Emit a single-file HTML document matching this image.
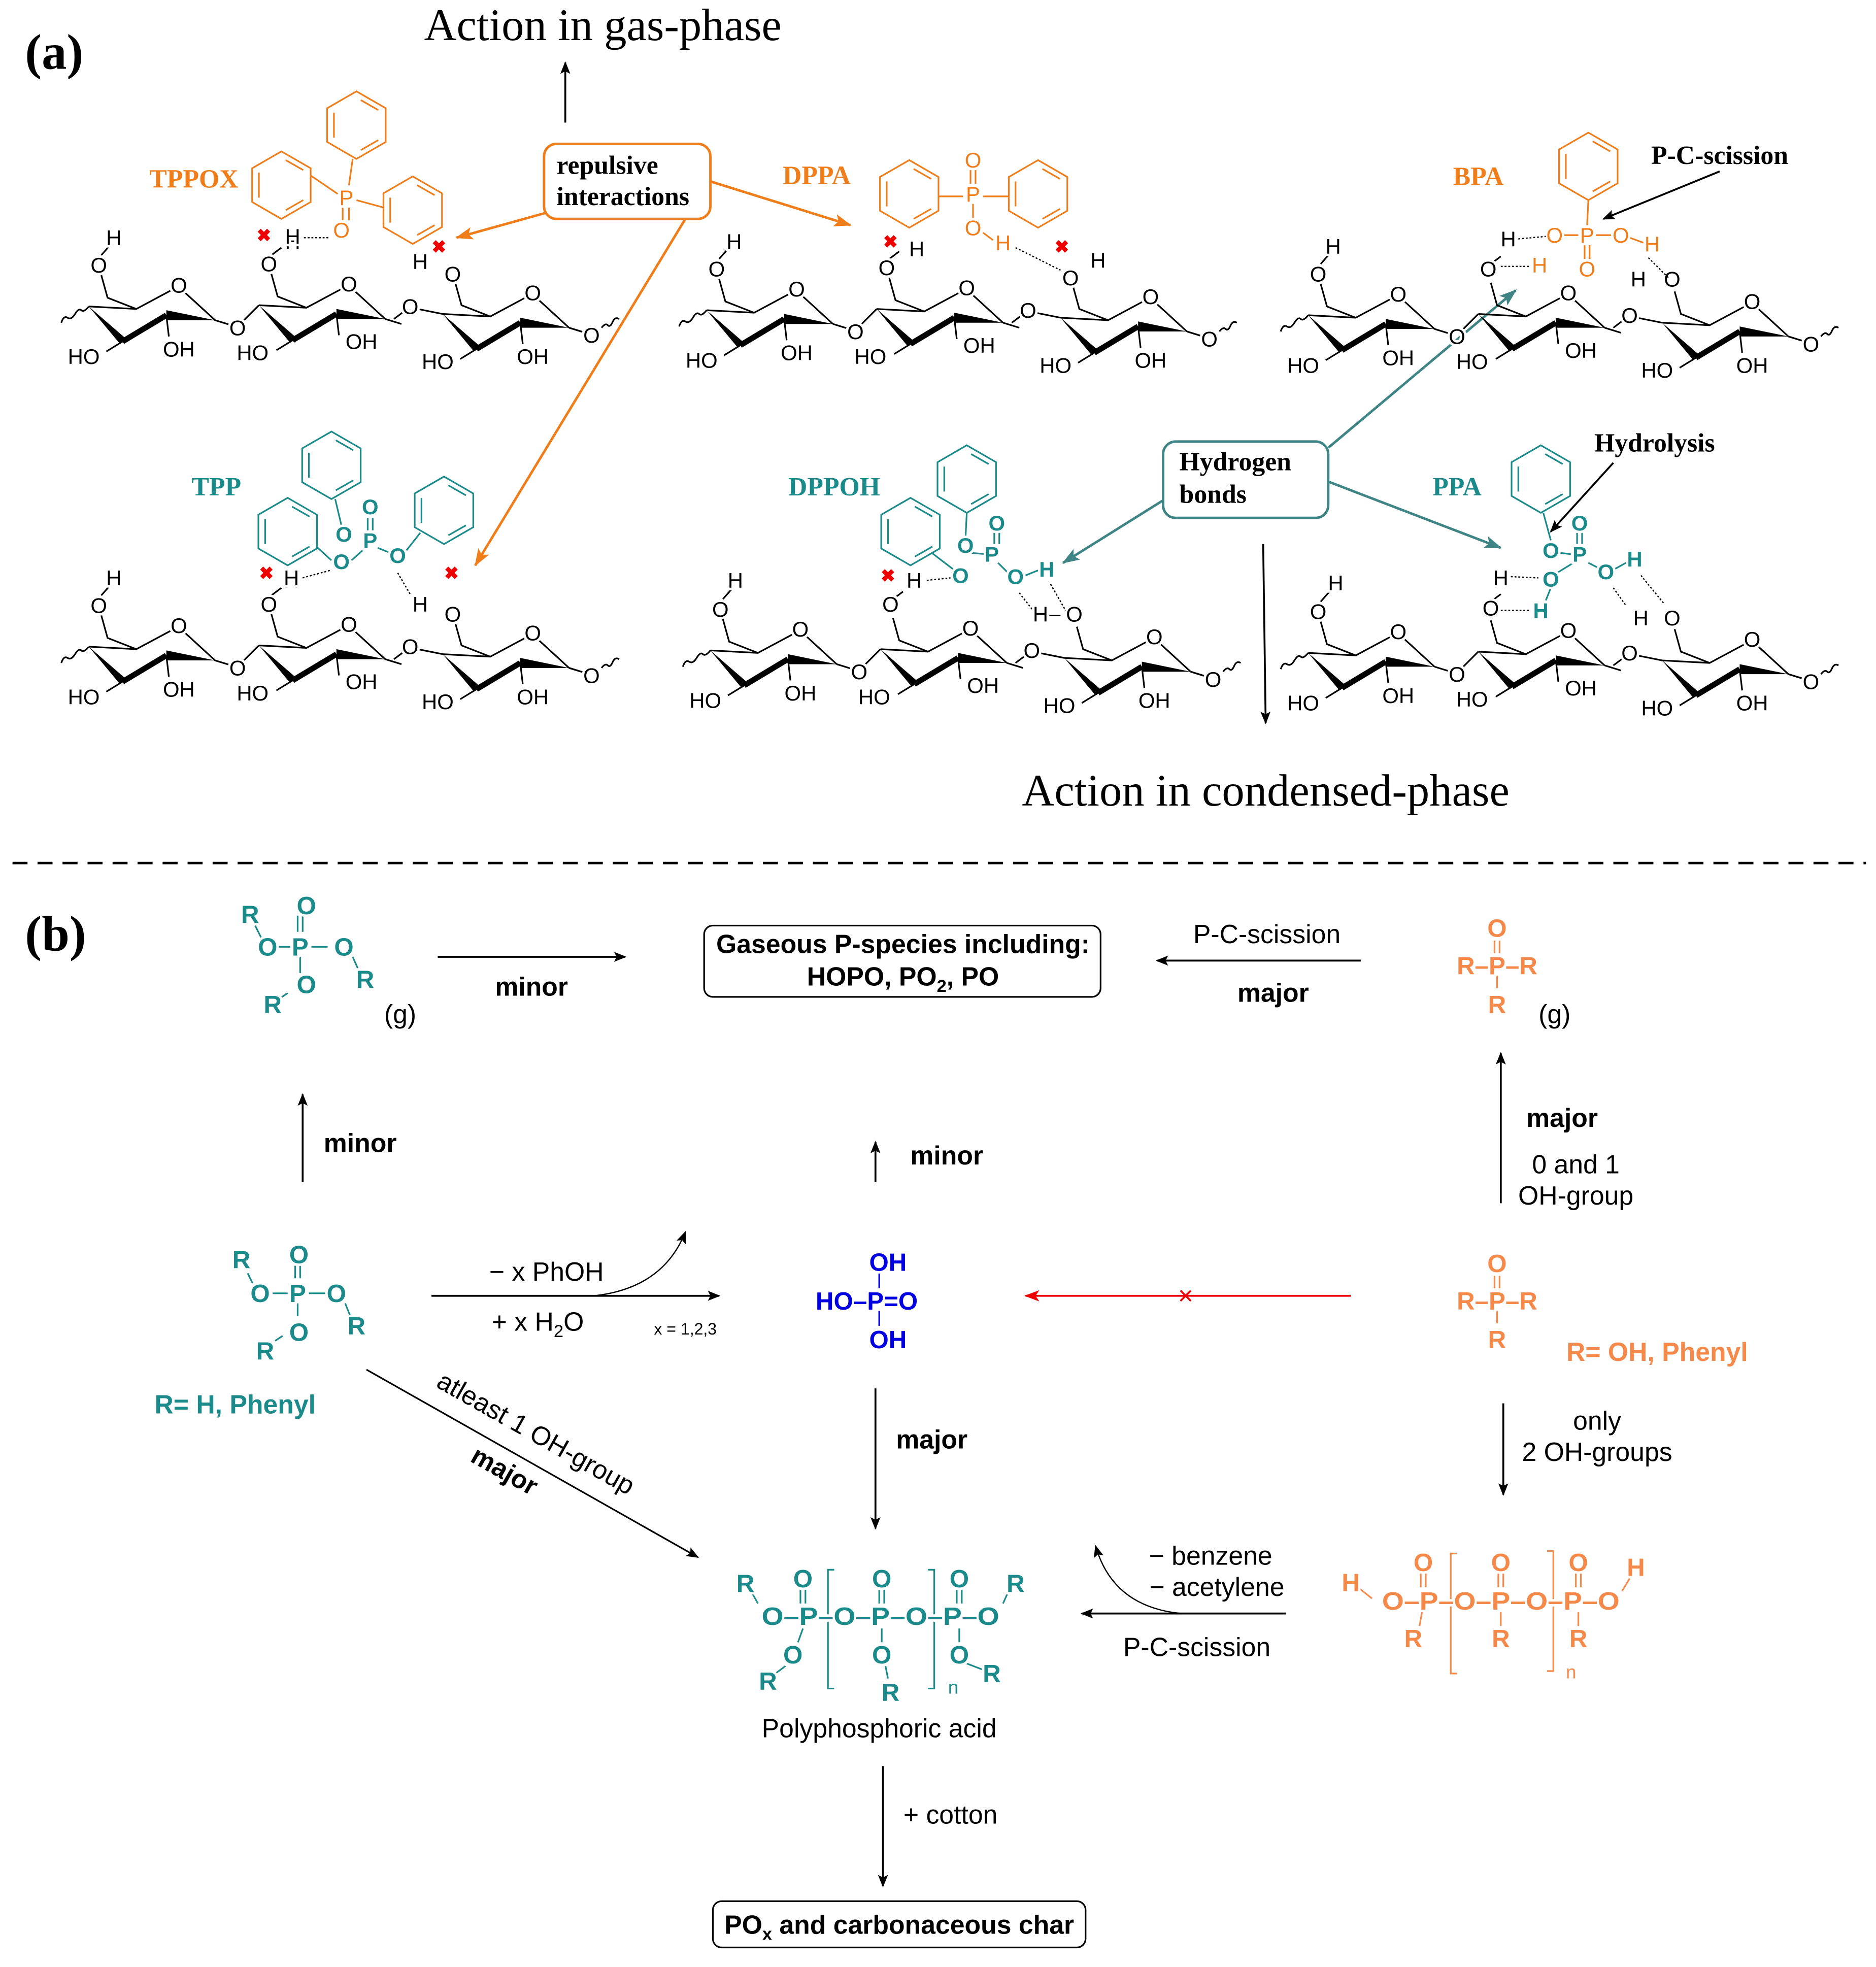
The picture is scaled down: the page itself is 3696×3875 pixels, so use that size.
<!DOCTYPE html>
<html><head><meta charset="utf-8"><style>
html,body{margin:0;padding:0;background:#fff}
svg{display:block}
.a{font-family:"Liberation Sans",sans-serif;font-size:17px;text-anchor:middle;paint-order:stroke;stroke:#fff;stroke-width:4px}
.s{font-family:"Liberation Sans",sans-serif}
.sf{font-family:"Liberation Serif",serif}
.b{font-family:"Liberation Sans",sans-serif;font-size:21px;text-anchor:middle}
.pt{font-family:"Liberation Sans",sans-serif;font-size:20px;text-anchor:middle;font-weight:bold;paint-order:stroke;stroke:#fff;stroke-width:4px}
</style></head><body>
<svg width="3696" height="3875" viewBox="0 0 1500 1572.6" xmlns="http://www.w3.org/2000/svg">
<defs>
<marker id="ak" markerWidth="10" markerHeight="8" refX="9" refY="4" orient="auto" markerUnits="userSpaceOnUse"><path d="M0,0 L10,4 L0,8 L2,4Z" fill="#000"/></marker>
<marker id="ao" markerWidth="14" markerHeight="10" refX="13" refY="5" orient="auto" markerUnits="userSpaceOnUse"><path d="M0,0 L14,5 L0,10 L3,5Z" fill="#ef7d1a"/></marker>
<marker id="at" markerWidth="14" markerHeight="10" refX="13" refY="5" orient="auto" markerUnits="userSpaceOnUse"><path d="M0,0 L14,5 L0,10 L3,5Z" fill="#3f8585"/></marker>
<marker id="ar" markerWidth="12" markerHeight="9" refX="11" refY="4.5" orient="auto" markerUnits="userSpaceOnUse"><path d="M0,0 L12,4.5 L0,9 L3,4.5Z" fill="#e00"/></marker>
<symbol id="ring" overflow="visible">
<g stroke="#000" stroke-width="1.3" fill="none">
<path d="M-72,17 L-34,19 L-6,4 M5,6 L29,28 M-34,19 L-57,10 L-62,-8 M-10,24 L-8,41 M-45,45 L-58,53 M29,28 L42,32"/>
</g>
<path d="M-72,17 L-42,43 L-47,47 Z" fill="#000"/>
<path d="M-45,45 L-10,24" stroke="#000" stroke-width="4.5"/>
<path d="M-10,20 L-10,28 L29,28 Z" fill="#000"/>
</symbol>
<symbol id="chain" overflow="visible">
<use href="#ring" x="0" y="0"/>
<use href="#ring" x="136" y="-1"/>
<use href="#ring" x="283" y="6"/>
<g stroke="#000" stroke-width="1.3" fill="none">
<path d="M52,28 L64,16 M172,27 L180,21 M191,19 L211,23 M312,34 L325,38"/>
<path d="M-72,17 q-4,5 -6,3 q-2,-2 -5,3 q-3,5 -6,3 q-3,-2 -5,4"/>
<path d="M338,34 q3,-4 5,-2 q2,2 4,-3 q2,-4 5,-2"/>
<path d="M-62,-24 L-55,-32 M74,-24 L82,-30"/>
</g>
</symbol>
<symbol id="ph" overflow="visible">
<g fill="none" stroke-width="1.3">
<polygon points="0,-27 23.4,-13.5 23.4,13.5 0,27 -23.4,13.5 -23.4,-13.5"/>
<path d="M3.5,-20 L17.5,-12 M17.5,12 L3.5,20 M-18,10 L-18,-10"/>
</g>
</symbol>
</defs>

<!-- ===== (a) ===== -->
<text x="20" y="55" class="sf" font-size="40" font-weight="bold">(a)</text>
<text x="482" y="32" class="sf" font-size="36" text-anchor="middle">Action in gas-phase</text>
<line x1="452" y1="98" x2="452" y2="50" stroke="#000" stroke-width="1.5" marker-end="url(#ak)"/>

<rect x="435" y="115" width="133" height="60" rx="10" fill="#fff" stroke="#ef7d1a" stroke-width="2"/>
<text x="445" y="139" class="sf" font-size="21" font-weight="bold">repulsive</text>
<text x="445" y="164" class="sf" font-size="21" font-weight="bold">interactions</text>
<g stroke="#ef7d1a" stroke-width="2" fill="none">
<line x1="437" y1="170" x2="365" y2="190" marker-end="url(#ao)"/>
<line x1="568" y1="145" x2="680" y2="180" marker-end="url(#ao)"/>
<line x1="548" y1="175" x2="380" y2="452" marker-end="url(#ao)"/>
</g>

<rect x="930" y="353" width="132" height="61" rx="10" fill="#fff" stroke="#3f8585" stroke-width="2"/>
<text x="943" y="376" class="sf" font-size="21" font-weight="bold">Hydrogen</text>
<text x="943" y="402" class="sf" font-size="21" font-weight="bold">bonds</text>
<g stroke="#3f8585" stroke-width="2" fill="none">
<line x1="1062" y1="358" x2="1212" y2="232" marker-end="url(#at)"/>
<line x1="930" y1="400" x2="850" y2="450" marker-end="url(#at)"/>
<line x1="1062" y1="385" x2="1200" y2="438" marker-end="url(#at)"/>
</g>
<line x1="1010" y1="435" x2="1012" y2="578" stroke="#000" stroke-width="1.5" marker-end="url(#ak)"/>
<text x="1012" y="644" class="sf" font-size="36" text-anchor="middle">Action in condensed-phase</text>

<text x="155" y="150" class="sf" font-size="21" font-weight="bold" fill="#ef7d1a" text-anchor="middle">TPPOX</text>
<text x="653" y="147" class="sf" font-size="21" font-weight="bold" fill="#ef7d1a" text-anchor="middle">DPPA</text>
<text x="1182" y="148" class="sf" font-size="21" font-weight="bold" fill="#ef7d1a" text-anchor="middle">BPA</text>
<text x="173" y="396" class="sf" font-size="21" font-weight="bold" fill="#1a8a8a" text-anchor="middle">TPP</text>
<text x="667" y="396" class="sf" font-size="21" font-weight="bold" fill="#1a8a8a" text-anchor="middle">DPPOH</text>
<text x="1165" y="396" class="sf" font-size="21" font-weight="bold" fill="#1a8a8a" text-anchor="middle">PPA</text>
<text x="1375" y="131" class="sf" font-size="21" font-weight="bold" text-anchor="middle">P-C-scission</text>
<line x1="1375" y1="137" x2="1282" y2="175" stroke="#000" stroke-width="1.5" marker-end="url(#ak)"/>
<text x="1323" y="361" class="sf" font-size="21" font-weight="bold" text-anchor="middle">Hydrolysis</text>
<line x1="1290" y1="370" x2="1240" y2="425" stroke="#000" stroke-width="1.5" marker-end="url(#ak)"/>

<!-- chains -->
<use href="#chain" x="143" y="228"/>
<use href="#chain" x="637" y="231"/>
<use href="#chain" x="1118" y="235"/>
<use href="#chain" x="143" y="500"/>
<use href="#chain" x="640" y="503"/>
<use href="#chain" x="1118" y="505"/>

<g class="a">
<!-- A1 -->
<text x="143" y="234">O</text><text x="279" y="233">O</text><text x="426" y="240">O</text>
<text x="190" y="268">O</text><text x="328" y="251">O</text><text x="473" y="274">O</text>
<text x="79" y="218">O</text><text x="215" y="217">O</text><text x="362" y="225">O</text>
<text x="91" y="196">H</text><text x="234" y="199">H</text><text x="336" y="215">H</text>
<text x="67" y="291">HO</text><text x="202" y="288">HO</text><text x="350" y="295">HO</text>
<text x="143" y="285">OH</text><text x="289" y="279">OH</text><text x="426" y="291">OH</text>
<!-- B1 -->
<text x="637" y="237">O</text><text x="773" y="236">O</text><text x="920" y="243">O</text>
<text x="684" y="271">O</text><text x="822" y="254">O</text><text x="967" y="277">O</text>
<text x="573" y="221">O</text><text x="709" y="220">O</text><text x="856" y="228">O</text>
<text x="587" y="199">H</text><text x="733" y="205">H</text><text x="878" y="214">H</text>
<text x="561" y="294">HO</text><text x="696" y="291">HO</text><text x="844" y="298">HO</text>
<text x="637" y="288">OH</text><text x="783" y="282">OH</text><text x="920" y="294">OH</text>
<!-- C1 -->
<text x="1118" y="241">O</text><text x="1254" y="240">O</text><text x="1401" y="247">O</text>
<text x="1165" y="275">O</text><text x="1303" y="258">O</text><text x="1448" y="281">O</text>
<text x="1054" y="225">O</text><text x="1190" y="221">O</text><text x="1337" y="229">O</text>
<text x="1066" y="203">H</text><text x="1310" y="229">H</text>
<text x="1042" y="298">HO</text><text x="1177" y="295">HO</text><text x="1325" y="302">HO</text>
<text x="1118" y="292">OH</text><text x="1264" y="286">OH</text><text x="1401" y="298">OH</text>
<!-- A2 -->
<text x="143" y="506">O</text><text x="279" y="505">O</text><text x="426" y="512">O</text>
<text x="190" y="540">O</text><text x="328" y="523">O</text><text x="473" y="546">O</text>
<text x="79" y="490">O</text><text x="215" y="489">O</text><text x="362" y="497">O</text>
<text x="91" y="468">H</text><text x="233" y="470">H</text><text x="336" y="489">H</text>
<text x="67" y="563">HO</text><text x="202" y="560">HO</text><text x="350" y="567">HO</text>
<text x="143" y="557">OH</text><text x="289" y="551">OH</text><text x="426" y="563">OH</text>
<!-- B2 -->
<text x="640" y="509">O</text><text x="776" y="508">O</text><text x="923" y="515">O</text>
<text x="687" y="543">O</text><text x="825" y="526">O</text><text x="970" y="549">O</text>
<text x="576" y="493">O</text><text x="712" y="489">O</text><text x="859" y="497">O</text>
<text x="588" y="470">H</text><text x="731" y="470">H</text><text x="831" y="497">H</text>
<text x="564" y="566">HO</text><text x="699" y="563">HO</text><text x="847" y="570">HO</text>
<text x="640" y="560">OH</text><text x="786" y="554">OH</text><text x="923" y="566">OH</text>
<!-- C2 -->
<text x="1118" y="511">O</text><text x="1254" y="510">O</text><text x="1401" y="517">O</text>
<text x="1165" y="545">O</text><text x="1303" y="528">O</text><text x="1448" y="551">O</text>
<text x="1054" y="495">O</text><text x="1192" y="492">O</text><text x="1337" y="500">O</text>
<text x="1068" y="472">H</text><text x="1200" y="468">H</text><text x="1312" y="500">H</text>
<text x="1042" y="568">HO</text><text x="1177" y="565">HO</text><text x="1325" y="572">HO</text>
<text x="1118" y="562">OH</text><text x="1264" y="556">OH</text><text x="1401" y="568">OH</text>
</g>

<!-- TPPOX -->
<g stroke="#ef7d1a" fill="none" stroke-width="1.3">
<use href="#ph" x="285" y="100"/><use href="#ph" x="225" y="148"/><use href="#ph" x="330" y="168"/>
<path d="M282,127 L279,148 M248,140 L270,155 M285,160 L307,166 M274,166 L274,176 M279,166 L279,176"/>
</g>
<g class="a" fill="#ef7d1a"><text x="277" y="164">P</text><text x="273" y="190">O</text></g>
<text x="234" y="195" class="a">H</text>
<path d="M243,190 L264,190" stroke="#000" stroke-dasharray="1.5,1.5"/>
<text x="211" y="193" class="a" fill="#e00" font-weight="bold" style="font-size:14px">✖</text>
<text x="351" y="202" class="a" fill="#e00" font-weight="bold" style="font-size:14px">✖</text>

<!-- DPPA -->
<g stroke="#ef7d1a" fill="none" stroke-width="1.3">
<use href="#ph" x="727" y="155"/><use href="#ph" x="830" y="155"/>
<path d="M751,157 L770,157 M786,157 L806,157 M776,136 L776,147 M780,136 L780,147 M778,163 L778,175 M786,186 L794,192"/>
</g>
<g class="a" fill="#ef7d1a"><text x="778" y="134">O</text><text x="778" y="161">P</text><text x="778" y="188">O</text><text x="802" y="200">H</text></g>
<path d="M812,198 L848,216" stroke="#000" stroke-dasharray="1.5,1.5"/>
<text x="712" y="198" class="a" fill="#e00" font-weight="bold" style="font-size:14px">✖</text>
<text x="849" y="202" class="a" fill="#e00" font-weight="bold" style="font-size:14px">✖</text>

<!-- BPA -->
<g stroke="#ef7d1a" fill="none" stroke-width="1.3">
<use href="#ph" x="1270" y="133"/>
<path d="M1270,160 L1269,180 M1250,188 L1262,188 M1276,188 L1289,188 M1267,196 L1267,207 M1271,196 L1271,207 M1303,190 L1314,194"/>
</g>
<g class="a" fill="#ef7d1a"><text x="1269" y="194">P</text><text x="1243" y="194">O</text><text x="1296" y="194">O</text><text x="1269" y="221">O</text><text x="1321" y="201">H</text><text x="1231" y="218">H</text></g>
<text x="1206" y="197" class="a">H</text>
<path d="M1214,191 L1236,189 M1200,213 L1224,213 M1318,206 L1334,222" stroke="#000" stroke-dasharray="1.5,1.5"/>

<!-- TPP -->
<g stroke="#1a8a8a" fill="none" stroke-width="1.3">
<use href="#ph" x="265" y="372"/><use href="#ph" x="230" y="425"/><use href="#ph" x="355" y="408"/>
<path d="M268,399 L273,420 M253,437 L265,448 M281,448 L290,440 M302,438 L312,442 M325,440 L336,426 M294,414 L294,424 M298,414 L298,424"/>
</g>
<g class="a" fill="#1a8a8a" font-weight="bold"><text x="296" y="438">P</text><text x="296" y="411">O</text><text x="275" y="433">O</text><text x="273" y="455">O</text><text x="318" y="450">O</text></g>
<text x="233" y="468" class="a">H</text>
<path d="M242,462 L264,456 M318,458 L328,475" stroke="#000" stroke-dasharray="1.5,1.5"/>
<text x="213" y="463" class="a" fill="#e00" font-weight="bold" style="font-size:14px">✖</text>
<text x="361" y="463" class="a" fill="#e00" font-weight="bold" style="font-size:14px">✖</text>

<!-- DPPOH -->
<g stroke="#1a8a8a" fill="none" stroke-width="1.3">
<use href="#ph" x="773" y="383"/><use href="#ph" x="728" y="425"/>
<path d="M773,410 L772,430 M745,442 L762,455 M776,442 L788,443 M795,425 L795,435 M799,425 L799,435 M798,450 L806,458 M820,460 L830,456"/>
</g>
<g class="a" fill="#1a8a8a" font-weight="bold"><text x="793" y="449">P</text><text x="797" y="424">O</text><text x="772" y="442">O</text><text x="768" y="466">O</text><text x="812" y="467">O</text><text x="837" y="461">H</text></g>
<text x="731" y="470" class="a">H</text>
<path d="M741,464 L760,462 M840,467 L852,488 M815,474 L826,488" stroke="#000" stroke-dasharray="1.5,1.5"/>
<text x="710" y="465" class="a" fill="#e00" font-weight="bold" style="font-size:14px">✖</text>
<text x="832" y="497" class="a">H</text><path d="M839,492 L848,492" stroke="#000"/>

<!-- PPA -->
<g stroke="#1a8a8a" fill="none" stroke-width="1.3">
<use href="#ph" x="1232" y="383"/>
<path d="M1234,410 L1240,432 M1247,442 L1256,443 M1261,424 L1261,435 M1265,424 L1265,435 M1258,450 L1245,458 M1270,450 L1280,455 M1291,455 L1300,450 M1240,470 L1236,480"/>
</g>
<g class="a" fill="#1a8a8a" font-weight="bold"><text x="1263" y="449">P</text><text x="1263" y="424">O</text><text x="1240" y="446">O</text><text x="1284" y="463">O</text><text x="1307" y="453">H</text><text x="1240" y="469">O</text><text x="1232" y="494">H</text></g>
<path d="M1208,461 L1230,462 M1200,488 L1224,488 M1312,460 L1330,482 M1290,470 L1300,484" stroke="#000" stroke-dasharray="1.5,1.5"/>

<!-- divider -->
<line x1="10" y1="690" x2="1492" y2="690" stroke="#000" stroke-width="2" stroke-dasharray="12,8"/>

<!-- ===== (b) ===== -->
<text x="20" y="760" class="sf" font-size="40" font-weight="bold">(b)</text>

<g stroke="#1a8a8a" stroke-width="1.3" fill="none">
<path d="M238,732 L238,745 M242,732 L242,745 M221,757 L232,757 M249,757 L262,757 M240,765 L240,778 M204,740 L209,750 M282,765 L286,774 M230,794 L224,798"/>
</g>
<g class="pt" fill="#1a8a8a"><text x="200" y="738">R</text><text x="245" y="731">O</text><text x="214" y="764">O</text><text x="240" y="764">P</text><text x="275" y="764">O</text><text x="292" y="790">R</text><text x="245" y="794">O</text><text x="218" y="810">R</text></g>
<text x="320" y="818" class="b">(g)</text>

<line x1="350" y1="765" x2="500" y2="765" stroke="#000" stroke-width="1.5" marker-end="url(#ak)"/>
<text x="425" y="796" class="b" font-weight="bold">minor</text>

<rect x="563" y="740" width="317" height="57" rx="7" fill="#fff" stroke="#000" stroke-width="1.3"/>
<text x="722" y="762" class="b" font-weight="bold" font-size="22">Gaseous P-species including:</text>
<text x="722" y="788" class="b" font-weight="bold" font-size="22">HOPO, PO<tspan font-size="14" dy="5">2</tspan><tspan dy="-5">, PO</tspan></text>

<line x1="1088" y1="768" x2="925" y2="768" stroke="#000" stroke-width="1.5" marker-end="url(#ak)"/>
<text x="1013" y="754" class="b">P-C-scission</text>
<text x="1018" y="801" class="b" font-weight="bold">major</text>

<g stroke="#f5894a" stroke-width="1.3"><path d="M1195,752 L1195,762 M1199,752 L1199,762 M1197,780 L1197,790"/></g>
<g class="pt" fill="#f5894a"><text x="1197" y="749">O</text><text x="1197" y="779">R–P–R</text><text x="1197" y="810">R</text></g>
<text x="1243" y="818" class="b">(g)</text>

<line x1="1200" y1="962" x2="1200" y2="842" stroke="#000" stroke-width="1.5" marker-end="url(#ak)"/>
<text x="1249" y="901" class="b" font-weight="bold">major</text>
<text x="1260" y="938" class="b">0 and 1</text>
<text x="1260" y="963" class="b">OH-group</text>

<line x1="242" y1="945" x2="242" y2="875" stroke="#000" stroke-width="1.5" marker-end="url(#ak)"/>
<text x="288" y="921" class="b" font-weight="bold">minor</text>

<g stroke="#1a8a8a" stroke-width="1.3" fill="none">
<path d="M236,1012 L236,1022 M240,1012 L240,1022 M218,1034 L230,1034 M247,1034 L260,1034 M238,1042 L238,1052 M198,1018 L202,1026 M276,1042 L280,1052 M226,1068 L220,1072"/>
</g>
<g class="pt" fill="#1a8a8a"><text x="193" y="1014">R</text><text x="239" y="1010">O</text><text x="208" y="1041">O</text><text x="238" y="1041">P</text><text x="269" y="1041">O</text><text x="285" y="1067">R</text><text x="239" y="1072">O</text><text x="212" y="1087">R</text></g>
<text x="188" y="1130" class="b" font-weight="bold" fill="#1a8a8a">R= H, Phenyl</text>

<line x1="345" y1="1036" x2="575" y2="1036" stroke="#000" stroke-width="1.5" marker-end="url(#ak)"/>
<path d="M475,1036 Q530,1030 548,985" stroke="#000" stroke-width="1" fill="none" marker-end="url(#ak)"/>
<text x="437" y="1024" class="b">− x PhOH</text>
<text x="430" y="1064" class="b">+ x H<tspan font-size="14" dy="5">2</tspan><tspan dy="-5">O</tspan></text>
<text x="548" y="1067" class="s" font-size="13" text-anchor="middle">x = 1,2,3</text>

<g stroke="#0000e0" stroke-width="1.3"><path d="M703,1018 L703,1030 M703,1048 L703,1060"/></g>
<g class="pt" fill="#0000e0"><text x="710" y="1016">OH</text><text x="693" y="1047">HO–P=O</text><text x="710" y="1078">OH</text></g>

<line x1="700" y1="945" x2="700" y2="913" stroke="#000" stroke-width="1.5" marker-end="url(#ak)"/>
<text x="757" y="931" class="b" font-weight="bold">minor</text>

<line x1="1080" y1="1036" x2="820" y2="1036" stroke="#e00" stroke-width="1.5" marker-end="url(#ar)"/>
<text x="948" y="1043" class="b" fill="#e00" font-size="20">×</text>

<g stroke="#f5894a" stroke-width="1.3"><path d="M1195,1020 L1195,1030 M1199,1020 L1199,1030 M1197,1048 L1197,1058"/></g>
<g class="pt" fill="#f5894a"><text x="1197" y="1017">O</text><text x="1197" y="1047">R–P–R</text><text x="1197" y="1078">R</text></g>
<text x="1325" y="1088" class="b" font-weight="bold" fill="#f5894a">R= OH, Phenyl</text>

<line x1="1202" y1="1122" x2="1202" y2="1195" stroke="#000" stroke-width="1.5" marker-end="url(#ak)"/>
<text x="1277" y="1143" class="b">only</text>
<text x="1277" y="1168" class="b">2 OH-groups</text>

<line x1="293" y1="1095" x2="558" y2="1245" stroke="#000" stroke-width="1.3" marker-end="url(#ak)"/>
<text transform="translate(425,1152) rotate(29.5)" class="b">atleast 1 OH-group</text>
<text transform="translate(400,1182) rotate(29.5)" class="b" font-weight="bold">major</text>

<line x1="700" y1="1110" x2="700" y2="1222" stroke="#000" stroke-width="1.5" marker-end="url(#ak)"/>
<text x="745" y="1158" class="b" font-weight="bold">major</text>

<g stroke="#1a8a8a" stroke-width="1.3" fill="none">
<path d="M640,1271 L640,1282 M644,1271 L644,1282 M703,1271 L703,1282 M707,1271 L707,1282 M765,1271 L765,1282 M769,1271 L769,1282"/>
<path d="M642,1302 L638,1313 M705,1302 L705,1313 M767,1302 L767,1313 M601,1273 L606,1282 M806,1273 L802,1282 M628,1332 L620,1338 M708,1332 L710,1342 M773,1330 L786,1335"/>
<path d="M667,1255 L662,1255 L662,1350 L667,1350 M742,1255 L747,1255 L747,1350 L742,1350"/>
</g>
<g class="pt" fill="#1a8a8a" font-size="21"><text x="596" y="1273">R</text><text x="642" y="1269">O</text><text x="705" y="1269">O</text><text x="767" y="1269">O</text><text x="812" y="1273">R</text>
<text x="704" y="1299" textLength="190" lengthAdjust="spacingAndGlyphs">O–P–O–P–O–P–O</text>
<text x="634" y="1330">O</text><text x="705" y="1330">O</text><text x="767" y="1330">O</text>
<text x="614" y="1351">R</text><text x="712" y="1360">R</text><text x="793" y="1345">R</text></g>
<text x="758" y="1354" class="s" font-size="15" fill="#1a8a8a">n</text>
<text x="703" y="1389" class="b">Polyphosphoric acid</text>

<line x1="1028" y1="1290" x2="865" y2="1290" stroke="#000" stroke-width="1.5" marker-end="url(#ak)"/>
<path d="M945,1290 Q890,1285 876,1236" stroke="#000" stroke-width="1" fill="none" marker-end="url(#ak)"/>
<text x="957" y="1324" class="b">P-C-scission</text>
<text x="968" y="1251" class="b">− benzene</text>
<text x="973" y="1276" class="b">− acetylene</text>

<g stroke="#f5894a" stroke-width="1.3" fill="none">
<path d="M1136,1258 L1136,1269 M1140,1258 L1140,1269 M1198,1258 L1198,1269 M1202,1258 L1202,1269 M1260,1258 L1260,1269 M1264,1258 L1264,1269"/>
<path d="M1137,1289 L1135,1300 M1200,1289 L1200,1300 M1262,1289 L1262,1300 M1087,1270 L1097,1278 M1303,1262 L1297,1272"/>
<path d="M1165,1242 L1160,1242 L1160,1338 L1165,1338 M1237,1240 L1242,1240 L1242,1336 L1237,1336"/>
</g>
<g class="pt" fill="#f5894a" font-size="21"><text x="1080" y="1272">H</text><text x="1138" y="1256">O</text><text x="1200" y="1256">O</text><text x="1262" y="1256">O</text><text x="1308" y="1260">H</text>
<text x="1200" y="1287" textLength="190" lengthAdjust="spacingAndGlyphs">O–P–O–P–O–P–O</text>
<text x="1130" y="1317">R</text><text x="1200" y="1317">R</text><text x="1262" y="1317">R</text></g>
<text x="1252" y="1342" class="s" font-size="15" fill="#f5894a">n</text>

<line x1="706" y1="1412" x2="706" y2="1508" stroke="#000" stroke-width="1.5" marker-end="url(#ak)"/>
<text x="760" y="1458" class="b">+ cotton</text>

<rect x="570" y="1520" width="298" height="37" rx="7" fill="#fff" stroke="#000" stroke-width="1.3"/>
<text x="719" y="1546" class="b" font-weight="bold" font-size="22">PO<tspan font-size="14" dy="5">x</tspan><tspan dy="-5"> and carbonaceous char</tspan></text>
</svg>
</body></html>
